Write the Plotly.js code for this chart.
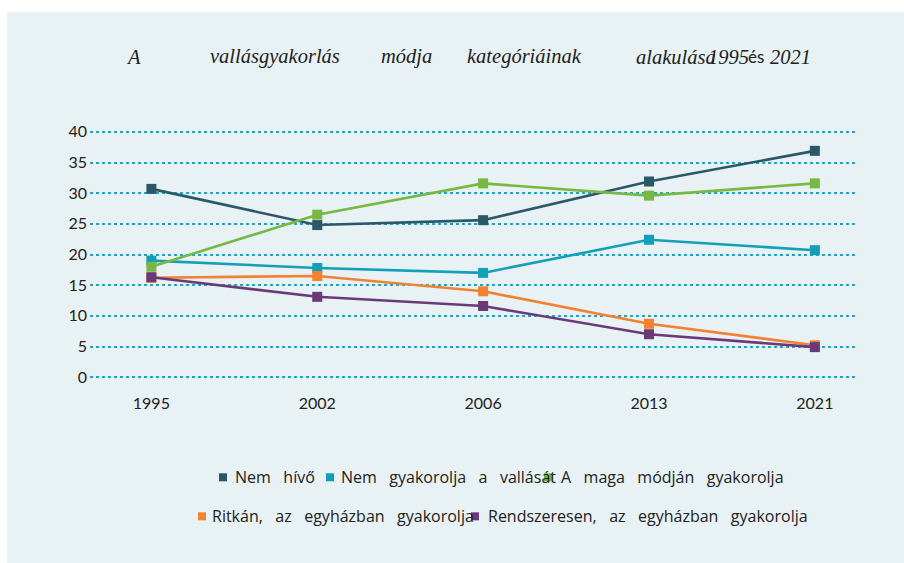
<!DOCTYPE html>
<html>
<head>
<meta charset="utf-8">
<script src="https://cdn.plot.ly/plotly-3.0.1.min.js"></script>
<style>
html,body{margin:0;padding:0;background:#ffffff;width:904px;height:563px;overflow:hidden;}
#chart{position:absolute;left:7px;top:12px;width:897px;height:551px;}
</style>
</head>
<body>
<div id="chart"></div>
<script>
// ---- data ----
var years = ["1995", "2002", "2006", "2013", "2021"];
var seriesNames = [
  "Nem hívő",
  "Nem gyakorolja a vallását",
  "A maga módján gyakorolja",
  "Ritkán, az egyházban gyakorolja",
  "Rendszeresen, az egyházban gyakorolja"
];
var nemHivo       = [30.7, 24.8, 25.6, 31.9, 36.9];
var nemGyakorolja = [19.0, 17.8, 17.0, 22.4, 20.7];
var magaModjan    = [18.0, 26.5, 31.6, 29.6, 31.6];
var ritkan        = [16.2, 16.5, 14.0, 8.7, 5.2];
var rendszeresen  = [16.3, 13.1, 11.6, 7.0, 4.9];
var yTicks = [0, 5, 10, 15, 20, 25, 30, 35, 40];
var titleWords = ["A", "vallásgyakorlás", "módja", "kategóriáinak", "alakulása", "1995", "és", "2021"];

var colors = ["#2b5869", "#139fb8", "#77b843", "#f28130", "#6c3978"];
var allSeries = [nemHivo, nemGyakorolja, magaModjan, ritkan, rendszeresen];

// page-pixel -> paper coordinate helpers
var Y0 = 377, Y40 = 132, YMIN = -0.3, YMAX = 40.3;
var pxPerUnit = (Y0 - Y40) / 40;
var PL = 90, PR = 858;
var PT = Y40 - (YMAX - 40) * pxPerUnit;
var PB = Y0 + (0 - YMIN) * pxPerUnit;
function px(x){ return (x - PL) / (PR - PL); }
function py(y){ return (PB - y) / (PB - PT); }

var traces = allSeries.map(function(vals, i){
  return {
    x: years, y: vals, type: "scatter", mode: "lines+markers",
    name: seriesNames[i],
    line: {color: colors[i], width: 2.6},
    marker: {symbol: "square", size: 10, color: colors[i]},
    cliponaxis: false,
    showlegend: false
  };
});

var annotations = [];
// title words (spread as in the reference)
var titleX = [124, 208, 379, 465, 634, 706, 746, 768];
titleWords.forEach(function(w, i){
  var sans = (w === "és");
  annotations.push({
    xref: "paper", yref: "paper", x: px(titleX[i]), y: py(57),
    xanchor: "left", yanchor: "middle", showarrow: false, text: w,
    font: sans ? {family: "Lato, 'Open Sans', sans-serif", size: 17, color: "#222"}
               : {family: "'Liberation Serif', 'Times New Roman', serif", size: 20.5, color: "#222", style: "italic"}
  });
});

// custom legend: square + label, wide word spacing as in the reference
var legendPos = [
  {sq: 223, tx: 233, y: 477},
  {sq: 330, tx: 339, y: 477},
  {sq: 548, tx: 559, y: 477},
  {sq: 202, tx: 210, y: 516},
  {sq: 475, tx: 486, y: 516}
];
legendPos.forEach(function(p, i){
  annotations.push({
    xref: "paper", yref: "paper", x: px(p.tx), y: py(p.y),
    xanchor: "left", yanchor: "middle", showarrow: false,
    text: seriesNames[i].split(" ").join("\u00a0\u00a0\u00a0"),
    font: {family: "'Open Sans', Lato, sans-serif", size: 16, color: "#222"}
  });
});
var shapes = legendPos.map(function(p, i){
  return {
    type: "rect", xref: "paper", yref: "paper",
    x0: px(p.sq - 4), x1: px(p.sq + 4), y0: py(p.y + 4), y1: py(p.y - 4),
    fillcolor: colors[i], line: {width: 0}, layer: "above"
  };
});

var layout = {
  width: 897, height: 551,
  paper_bgcolor: "#e8f1f4", plot_bgcolor: "rgba(0,0,0,0)",
  margin: {l: PL - 7, r: 897 - (PR - 7), t: PT - 12, b: 551 - (PB - 12)},
  showlegend: false,
  font: {family: "Lato, 'Open Sans', sans-serif", size: 16, color: "#222"},
  xaxis: {
    type: "category", range: [-0.37, 4.26],
    showgrid: false, zeroline: false, showline: false, ticks: "",
    ticklabelstandoff: 13, fixedrange: true,
    tickfont: {size: 16, color: "#222"}
  },
  yaxis: {
    range: [YMIN, YMAX], tickvals: yTicks, ticktext: yTicks.map(String),
    showgrid: true, gridcolor: "#22a3bf", gridwidth: 2, griddash: "dot",
    zeroline: false, showline: false, ticks: "", ticklabelstandoff: 2,
    tickfont: {size: 16, color: "#222"}, fixedrange: true
  },
  annotations: annotations,
  shapes: shapes
};

Plotly.newPlot("chart", traces, layout, {displayModeBar: false, staticPlot: true});
</script>
</body>
</html>
